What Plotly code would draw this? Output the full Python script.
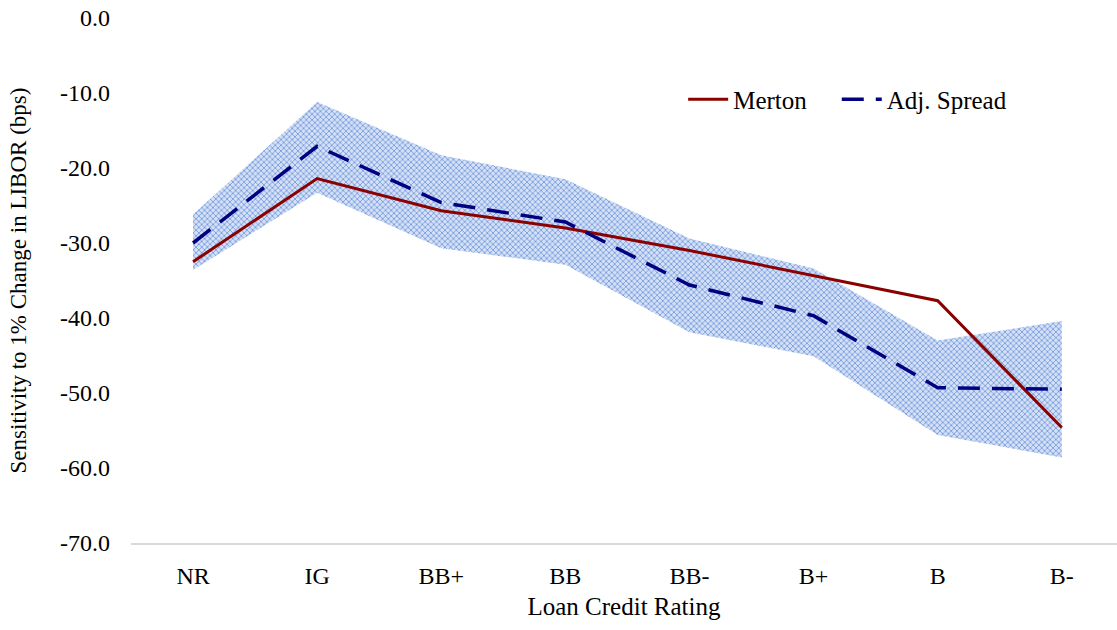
import plotly.graph_objects as go

ratings = ["NR", "IG", "BB+", "BB", "BB-", "B+", "B", "B-"]
merton = [-32.5, -21.4, -25.7, -28.0, -31.0, -34.3, -37.7, -54.6]
adj_spread = [-30.0, -17.1, -24.6, -27.2, -35.6, -39.7, -49.3, -49.5]
band_upper = [-26.2, -11.2, -18.3, -21.5, -29.4, -33.4, -43.0, -40.4]
band_lower = [-33.6, -23.3, -30.7, -32.9, -41.9, -45.1, -55.6, -58.6]
y_ticks = [0, -10, -20, -30, -40, -50, -60, -70]
y_tick_labels = ["0.0", "-10.0", "-20.0", "-30.0", "-40.0", "-50.0", "-60.0", "-70.0"]

xi = list(range(len(ratings)))
NB = "\u00a0"

fig = go.Figure()
fig.add_trace(go.Scatter(
    x=xi + xi[::-1], y=band_upper + band_lower[::-1],
    fill="toself", mode="lines", line=dict(width=0),
    fillcolor="rgba(180,200,235,1)",
    fillpattern=dict(shape="x", size=4, solidity=0.35,
                     fgcolor="#6b93dc", bgcolor="#d3e0f5", fillmode="replace"),
    showlegend=False, hoverinfo="skip",
))
fig.add_trace(go.Scatter(
    x=xi, y=merton, mode="lines", name="Merton" + NB * 4,
    line=dict(color="#8B0000", width=3),
))
fig.add_trace(go.Scatter(
    x=xi, y=adj_spread, mode="lines", name="Adj. Spread",
    line=dict(color="#000080", width=3.5, dash="22px,12px"),
))

font = "Liberation Serif, Times New Roman, serif"
fig.update_layout(
    width=1117, height=630,
    margin=dict(l=131, r=0, t=18, b=87),
    paper_bgcolor="white", plot_bgcolor="white",
    font=dict(family=font, size=24, color="black"),
    showlegend=True,
    legend=dict(orientation="h", x=0.560, y=0.845, xanchor="left", yanchor="middle",
                font=dict(family=font, size=25), bgcolor="rgba(0,0,0,0)", itemwidth=40,
                traceorder="normal"),
    xaxis=dict(
        tickmode="array", tickvals=xi, ticktext=ratings,
        range=[-0.5, 7.445], showgrid=False, zeroline=False,
        showline=True, linecolor="#D9D9D9", linewidth=1.5,
        ticks="", ticklabelstandoff=10, automargin=False,
        title=dict(text="Loan Credit Rating", font=dict(family=font, size=25), standoff=10),
        tickfont=dict(family=font, size=24),
    ),
    yaxis=dict(
        range=[-70, 0], tickmode="array", tickvals=y_ticks, ticktext=y_tick_labels,
        showgrid=False, zeroline=False, showline=False,
        ticks="", ticklabelstandoff=20, automargin=False,
        title=dict(text="Sensitivity to 1% Change in LIBOR (bps)", font=dict(family=font, size=23), standoff=26),
        tickfont=dict(family=font, size=24),
    ),
)

fig.write_html("out.html", config={"displayModeBar": False},
               post_script="document.body.style.margin='0';")
